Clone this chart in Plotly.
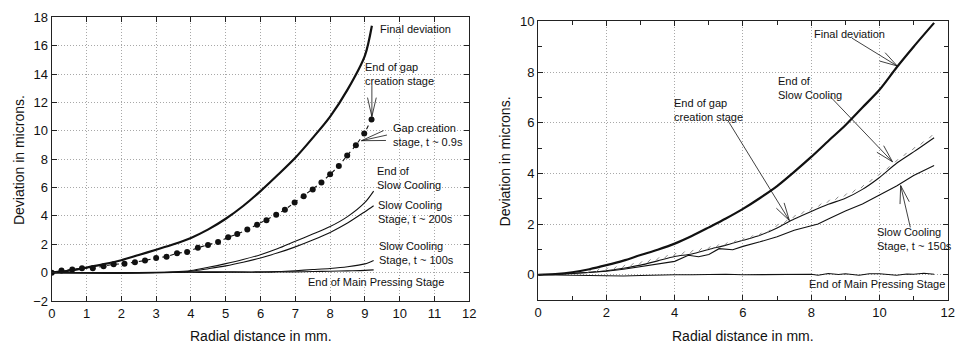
import math
import plotly.graph_objects as go

FONT = "Liberation Sans, Arial, sans-serif"
INK = "#111111"

# ---------------- left panel: stage-by-stage deviation ----------------
final_x_l = [0, 0.5, 1, 1.5, 2, 2.5, 3, 3.5, 4, 4.5, 5, 5.5, 6, 6.5, 7, 7.5, 8, 8.5, 9, 9.2]
final_y_l = [0, 0.14, 0.36, 0.6, 0.88, 1.25, 1.62, 2.0, 2.45, 3.05, 3.8, 4.7, 5.75, 6.9, 8.1, 9.5, 11.0, 12.9, 15.3, 17.4]

gap_x_l = [0, 0.28, 0.59, 0.87, 1.18, 1.49, 1.78, 2.09, 2.39, 2.68, 3.0, 3.3, 3.6, 3.89, 4.2, 4.49,
           4.78, 5.07, 5.33, 5.62, 5.9, 6.17, 6.45, 6.7, 6.98, 7.24, 7.5, 7.75, 8.0, 8.25, 8.49,
           8.74, 8.98, 9.19]
gap_y_l = [0, 0.16, 0.22, 0.32, 0.32, 0.45, 0.59, 0.63, 0.74, 0.86, 1.04, 1.13, 1.37, 1.46, 1.76, 1.96,
           2.16, 2.5, 2.72, 3.04, 3.38, 3.69, 4.08, 4.44, 4.95, 5.38, 5.86, 6.36, 6.93, 7.52, 8.26,
           8.98, 9.8, 10.8]

stage_x_l = [0, 1, 2, 3, 3.5, 4, 4.5, 5, 5.5, 6, 6.5, 7, 7.5, 8, 8.5, 9, 9.25]
end_sc_l = [0, 0, 0, 0.02, 0.05, 0.15, 0.38, 0.64, 0.93, 1.27, 1.7, 2.22, 2.72, 3.25, 3.95, 4.95, 5.75]
sc200_l = [0, 0, 0, 0.01, 0.04, 0.1, 0.28, 0.48, 0.74, 1.04, 1.4, 1.82, 2.3, 2.84, 3.5, 4.3, 4.72]
sc100_l = [0, -0.02, -0.03, 0.0, 0.02, 0.05, 0.06, 0.06, 0.05, 0.06, 0.08, 0.14, 0.22, 0.3, 0.42, 0.62, 0.86]
press_l = [0, -0.02, -0.03, 0.0, 0.02, 0.03, 0.02, 0.03, 0.04, 0.03, 0.05, 0.06, 0.08, 0.1, 0.13, 0.16, 0.2]

# ---------------- right panel ----------------
x_r = [0, 0.5, 1, 1.5, 2, 2.5, 3, 3.5, 4, 4.5, 5, 5.5, 6, 6.5, 7, 7.5, 8, 8.5, 9, 9.5, 10, 10.5, 11, 11.6]
final_r = [0, 0.03, 0.1, 0.22, 0.38, 0.56, 0.78, 0.99, 1.23, 1.53, 1.87, 2.22, 2.6, 3.03, 3.5, 4.06,
           4.65, 5.28, 5.9, 6.6, 7.3, 8.18, 9.0, 9.94]
end_sc_r = [0, 0.02, 0.06, 0.1, 0.16, 0.26, 0.38, 0.55, 0.72, 0.82, 1.0, 1.17, 1.36, 1.56, 1.85, 2.2,
            2.5, 2.78, 3.02, 3.37, 3.84, 4.4, 4.85, 5.41]

gap_x_r = [1.5, 1.75, 2.0, 2.25, 2.5, 2.75, 3.0, 3.25, 3.5, 3.75, 4.0, 4.25, 4.5, 4.75, 5.0, 5.25,
           5.5, 5.75, 6.0, 6.25, 6.5, 6.75, 7.0, 7.25, 7.5, 7.75, 8.0, 8.25, 8.5, 8.75, 9.0, 9.25,
           9.5, 9.75, 10.0, 10.25, 10.5, 10.75, 11.0, 11.25, 11.5]
gap_y_r = [0.14, 0.18, 0.22, 0.27, 0.33, 0.4, 0.47, 0.55, 0.63, 0.72, 0.8, 0.86, 0.92, 0.99, 1.06, 1.14,
           1.22, 1.3, 1.4, 1.5, 1.6, 1.72, 1.95, 2.1, 2.3, 2.45, 2.6, 2.75, 2.9, 3.02, 3.15, 3.3,
           3.48, 3.72, 3.97, 4.22, 4.5, 4.75, 4.98, 5.2, 5.45]

sc150_x_r = [0, 0.5, 1, 1.5, 2, 2.5, 3, 3.5, 4, 4.4, 4.7, 5, 5.3, 5.7, 6, 6.5, 7, 7.5, 8, 8.2, 8.5,
             9, 9.5, 10, 10.5, 11, 11.6]
sc150_r = [0, 0.02, 0.05, 0.09, 0.14, 0.22, 0.33, 0.43, 0.53, 0.77, 0.71, 0.8, 1.03, 0.99, 1.12, 1.3,
           1.5, 1.76, 1.95, 2.0, 2.2, 2.52, 2.79, 3.14, 3.5, 3.92, 4.31]

press_x_r = [0, 0.5, 1, 1.5, 2, 2.2, 2.5, 3, 3.5, 4, 4.5, 5, 5.5, 6, 6.5, 7, 7.5, 8, 8.2, 8.5, 8.8,
             9, 9.4, 9.7, 10, 10.3, 10.5, 10.8, 11, 11.3, 11.6]
press_r = [0, -0.01, -0.02, -0.04, -0.05, -0.06, -0.05, -0.03, -0.01, 0, 0, 0.01, 0.02, 0, 0.01, 0.02,
           0.02, 0.02, -0.02, 0.05, 0.01, 0.04, -0.02, 0.04, 0.04, -0.01, -0.02, 0.03, 0.02, 0.06, 0.02]

fig = go.Figure()


def line(x, y, xa, ya, width=1.1, dash="solid", smooth=True):
    fig.add_trace(go.Scatter(x=x, y=y, xaxis=xa, yaxis=ya, mode="lines",
                             line=dict(color=INK, width=width, dash=dash,
                                       shape="spline" if smooth else "linear", smoothing=0.8),
                             showlegend=False, hoverinfo="skip"))


# left panel traces
line(stage_x_l, press_l, "x", "y")
line(stage_x_l, sc100_l, "x", "y")
line(stage_x_l, sc200_l, "x", "y")
line(stage_x_l, end_sc_l, "x", "y")
fig.add_trace(go.Scatter(x=gap_x_l, y=gap_y_l, xaxis="x", yaxis="y", mode="lines+markers",
                         line=dict(color=INK, width=1.1, dash="4px,4px"),
                         marker=dict(color=INK, size=6),
                         showlegend=False, hoverinfo="skip"))
line(final_x_l, final_y_l, "x", "y", width=2.2)

# right panel traces
line(press_x_r, press_r, "x2", "y2", smooth=False)
line(sc150_x_r, sc150_r, "x2", "y2", smooth=False)
line(x_r, end_sc_r, "x2", "y2")
fig.add_trace(go.Scatter(x=gap_x_r, y=gap_y_r, xaxis="x2", yaxis="y2", mode="markers",
                         marker=dict(symbol="line-ne", size=3, line=dict(color="#8a8a8a", width=1)),
                         showlegend=False, hoverinfo="skip"))
line(x_r, final_r, "x2", "y2", width=2.2)

axis_common = dict(showline=True, linecolor="#222222", linewidth=1.2, mirror="ticks",
                   ticks="inside", ticklen=5, tickcolor="#222222", zeroline=False,
                   showgrid=True, gridcolor="#a8a8a8", griddash="1px,2px", gridwidth=1,
                   tickfont=dict(family=FONT, size=13, color=INK))
minor_ticks = dict(ticks="inside", ticklen=4, dtick=1, tickcolor="#222222", showgrid=False)

fig.update_layout(
    width=962, height=356,
    margin=dict(l=0, r=0, t=0, b=0),
    paper_bgcolor="white", plot_bgcolor="white",
    font=dict(family=FONT, color=INK),
    xaxis=dict(domain=[0.0502, 0.4893], range=[0, 12], dtick=1, tick0=0, anchor="y", **axis_common),
    yaxis=dict(domain=[0.1376, 0.970], range=[-2, 18], dtick=2, tick0=0, anchor="x", **axis_common),
    xaxis2=dict(domain=[0.5617, 0.9924], range=[0, 12], dtick=2, tick0=0, anchor="y2",
                minor=minor_ticks, **axis_common),
    yaxis2=dict(domain=[0.1404, 0.9579], range=[-1, 10], dtick=2, tick0=0, anchor="x2",
                minor=minor_ticks, **axis_common),
)

# axis titles
titles = [
    ("Deviation in microns.", 15, 160, -90),
    ("Deviation in microns.", 507, 161, -90),
    ("Radial distance in mm.", 260, 343, 0),
    ("Radial distance in mm.", 748, 343, 0),
]
for text, px, py, ang in titles:
    fig.add_annotation(text=text, xref="paper", yref="paper", x=px / 962, y=1 - py / 356,
                       showarrow=False, textangle=ang, xanchor="center", yanchor="middle",
                       font=dict(family=FONT, size=14, color=INK))

# curve labels
labels = [
    ("Final deviation", 9.37, 17.17, "x", "y"),
    ("End of gap<br>creation stage", 8.94, 14.03, "x", "y"),
    ("Gap creation<br>stage, t ~ 0.9s", 9.74, 9.7, "x", "y"),
    ("End of<br>Slow Cooling", 9.28, 6.7, "x", "y"),
    ("Slow Cooling<br>Stage, t ~ 200s", 9.31, 4.3, "x", "y"),
    ("Slow Cooling<br>Stage, t ~ 100s", 9.34, 1.36, "x", "y"),
    ("End of Main Pressing Stage", 7.32, -0.67, "x", "y"),
    ("Final deviation", 8.01, 9.51, "x2", "y2"),
    ("End of<br>Slow Cooling", 6.97, 7.38, "x2", "y2"),
    ("End of gap<br>creation stage", 3.93, 6.51, "x2", "y2"),
    ("Slow Cooling<br>Stage, t ~ 150s", 9.87, 1.4, "x2", "y2"),
    ("End of Main Pressing Stage", 7.89, -0.38, "x2", "y2"),
]
for text, x, y, xr, yr in labels:
    fig.add_annotation(text=text, x=x, y=y, xref=xr, yref=yr, showarrow=False,
                       xanchor="left", yanchor="middle", align="left",
                       font=dict(family=FONT, size=11, color=INK))


def pointer(x, y, xr, yr, dx, dy, barb=20, spread=14):
    """Open V-headed pointer: shaft from (dx, dy) pixels away to the tip at (x, y)."""
    ang = math.atan2(dy, dx)
    segs = [(dx, dy)]
    for s in (-1, 1):
        a = ang + s * math.radians(spread)
        segs.append((barb * math.cos(a), barb * math.sin(a)))
    for ax, ay in segs:
        fig.add_annotation(x=x, y=y, xref=xr, yref=yr, ax=ax, ay=ay, text="",
                           showarrow=True, arrowhead=0, arrowwidth=0.8, arrowcolor=INK,
                           standoff=0, startstandoff=0)


pointer(9.2, 11.0, "x", "y", 0, -33, barb=21, spread=13)
pointer(8.9, 9.3, "x", "y", 27, -6, barb=26, spread=12)
pointer(10.52, 8.24, "x2", "y2", -46.7, -28.7, barb=20, spread=16)
pointer(10.38, 4.46, "x2", "y2", -63.7, -66.7, barb=20, spread=15)
pointer(7.36, 2.14, "x2", "y2", -62.3, -101.3, barb=20, spread=15)
pointer(10.62, 3.52, "x2", "y2", 10, 43.3, barb=20, spread=15)

fig.write_html("out.html")
